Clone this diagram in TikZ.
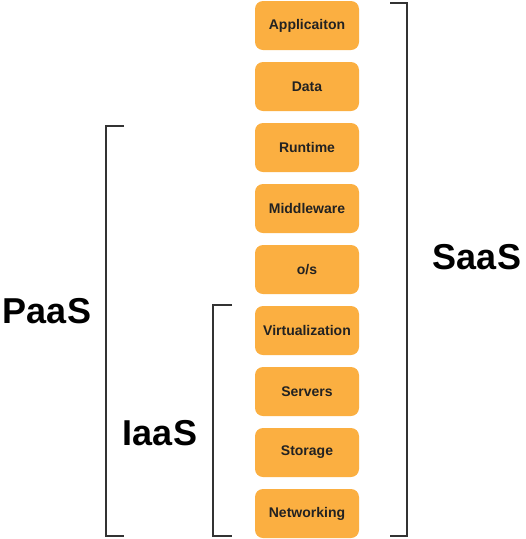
\documentclass[tikz,border=0pt]{standalone}
\usepackage{fontspec}
\setmainfont{Liberation Sans}
\definecolor{boxfill}{HTML}{FBAF41}
\definecolor{txt}{HTML}{222222}
\definecolor{brk}{HTML}{333333}
\tikzset{
  layer/.style={draw=none, fill=boxfill, rounded corners=8pt, minimum width=104pt, minimum height=49pt, inner sep=0pt, font=\fontsize{14}{16}\selectfont\bfseries, text=txt},
  big/.style={font=\fontsize{36}{40}\selectfont\bfseries, text=black, inner sep=0pt},
  bracket/.style={draw=brk, line width=2pt}
}
\begin{document}
\begin{tikzpicture}[x=1pt,y=-1pt]
\useasboundingbox (0,0) rectangle (526,539);
\foreach \t [count=\i from 0] in {Applicaiton,Data,Runtime,Middleware,o/s,Virtualization,Servers,Storage,Networking}{
  \node[layer] (b\i) at (307,{25.5+61*\i}) {\t};
}
% SaaS bracket
\coordinate (s1) at (390,3);
\coordinate (s2) at (407,3);
\coordinate (s3) at (407,536);
\coordinate (s4) at (390,536);
\draw[bracket] (s1) -- (s2) -- (s3) -- (s4);
% PaaS bracket
\coordinate (p1) at (124,126);
\coordinate (p2) at (106,126);
\coordinate (p3) at (106,536);
\coordinate (p4) at (124,536);
\draw[bracket] (p1) -- (p2) -- (p3) -- (p4);
% IaaS bracket
\coordinate (i1) at (232,305);
\coordinate (i2) at (213,305);
\coordinate (i3) at (213,536);
\coordinate (i4) at (232,536);
\draw[bracket] (i1) -- (i2) -- (i3) -- (i4);
\node[big] (saas) at (477,257) {SaaS};
\node[big] (paas) at (47,311) {PaaS};
\node[big] (iaas) at (160,433) {IaaS};
\end{tikzpicture}
\end{document}
